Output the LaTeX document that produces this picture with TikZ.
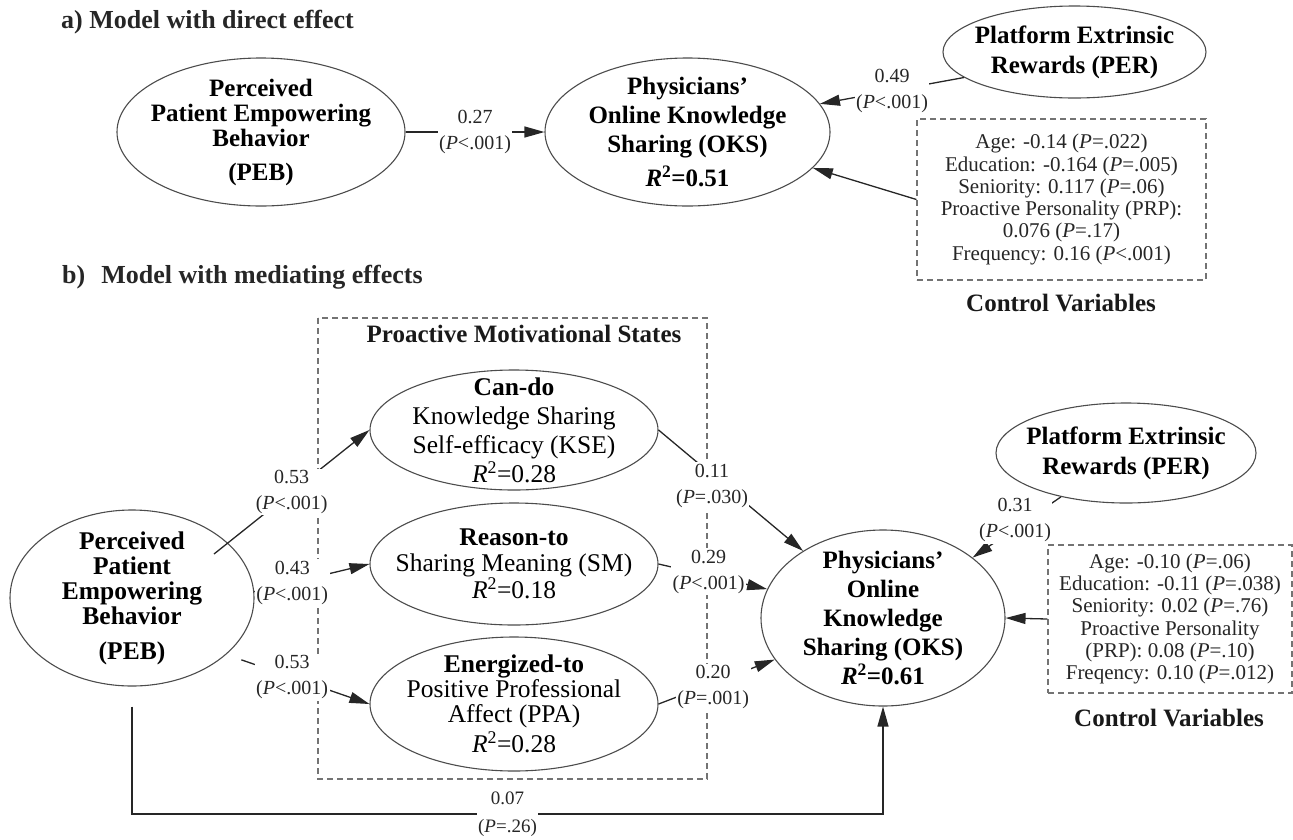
\documentclass[tikz,border=0pt]{standalone}
\usepackage{fontspec}
\setmainfont{Liberation Serif}
\usetikzlibrary{shapes.geometric,arrows.meta,calc}
\begin{document}
\begin{tikzpicture}[x=1pt,y=-1pt,
  ell/.style={ellipse, draw=black!70, line width=1.1pt, inner xsep=-40pt, inner ysep=-40pt, align=center, text=black},
  lab/.style={fill=white, inner sep=1.5pt, align=center, font={\fontsize{20}{26}\selectfont}, text=black!85},
  arr/.style={draw=black!85, line width=1.3pt, -{Triangle[length=20pt,width=11pt]}},
  dbox/.style={draw=black!55, dash pattern=on 6pt off 4pt, line width=1.1pt},
  ctrl/.style={dbox, align=center, font={\fontsize{21}{22.3}\selectfont}, inner sep=0pt, text=black!85},
  ttl/.style={font={\fontsize{26}{30}\selectfont\bfseries}, anchor=west, inner sep=0pt, text=black!85},
  cvar/.style={font={\fontsize{25}{30}\selectfont\bfseries}, inner sep=0pt, text=black!90},
]
\useasboundingbox (0,0) rectangle (1293,839);

% ---------- a) ----------
\node[ttl] (ta) at (61,22) {a) Model with direct effect};

\node[ell, minimum width=288pt, minimum height=148pt, font={\fontsize{25}{25}\selectfont\bfseries}]
  (PEBa) at (261,132) {Perceived\\Patient Empowering\\Behavior\\[9pt](PEB)};
\node[ell, minimum width=285pt, minimum height=148pt, font={\fontsize{25}{29}\selectfont\bfseries}]
  (OKSa) at (687.5,132) {Physicians’\\Online Knowledge\\Sharing (OKS)\\[5pt]\textit{R}\textsuperscript{2}=0.51};
\node[ell, minimum width=263pt, minimum height=92pt, font={\fontsize{25}{30}\selectfont\bfseries}]
  (PERa) at (1074.5,52) {Platform Extrinsic\\Rewards (PER)};
\node[ctrl, minimum width=289pt, minimum height=161pt] (CTa) at (1061.5,199.5)
  {Age: -0.14 (\textit{P}=.022)\\
   Education: -0.164 (\textit{P}=.005)\\
   Seniority: 0.117 (\textit{P}=.06)\\
   Proactive Personality (PRP):\\
   0.076 (\textit{P}=.17)\\
   Frequency: 0.16 (\textit{P}<.001)};
\node[cvar] (CVa) at (1061,303) {Control Variables};

\draw[arr] (PEBa.east) -- node[lab, midway]{0.27\\(\textit{P}<.001)} (OKSa.west);
\draw[arr] (PERa.193) -- node[lab, midway]{0.49\\(\textit{P}<.001)} (OKSa.12);
\draw[arr] (CTa.west) -- (OKSa.344);

% ---------- b) ----------
\node[ttl] (tb) at (62,277) {b)\hspace{16pt}Model with mediating effects};

\draw[dbox] (318,318) rectangle (707,779);
\node[cvar] (PMS) at (524,334) {Proactive Motivational States};

\node[ell, minimum width=288pt, minimum height=120pt, font={\fontsize{25.5}{29}\selectfont}]
  (KSE) at (514,430) {\textbf{Can-do}\\Knowledge Sharing\\Self-efficacy (KSE)\\\textit{R}\textsuperscript{2}=0.28};
\node[ell, minimum width=288pt, minimum height=122pt, font={\fontsize{25.5}{26}\selectfont}]
  (SM) at (514,564) {\textbf{Reason-to}\\Sharing Meaning (SM)\\\textit{R}\textsuperscript{2}=0.18};
\node[ell, minimum width=288pt, minimum height=134pt, font={\fontsize{25.5}{25}\selectfont}]
  (PPA) at (514,704) {\textbf{Energized-to}\\Positive Professional\\Affect (PPA)\\[3pt]\textit{R}\textsuperscript{2}=0.28};
\node[ell, minimum width=244pt, minimum height=176pt, font={\fontsize{25.5}{25}\selectfont\bfseries}]
  (PEBb) at (132,598) {Perceived\\Patient\\Empowering\\Behavior\\[10pt](PEB)};
\node[ell, minimum width=244pt, minimum height=176pt, font={\fontsize{25}{29}\selectfont\bfseries}]
  (OKSb) at (883,618) {Physicians’\\Online\\Knowledge\\Sharing (OKS)\\\textit{R}\textsuperscript{2}=0.61};
\node[ell, minimum width=260pt, minimum height=100pt, font={\fontsize{25}{30}\selectfont\bfseries}]
  (PERb) at (1126,453) {Platform Extrinsic\\Rewards (PER)};
\node[ctrl, minimum width=244pt, minimum height=148pt] (CTb) at (1170,619)
  {Age: -0.10 (\textit{P}=.06)\\
   Education: -0.11 (\textit{P}=.038)\\
   Seniority: 0.02 (\textit{P}=.76)\\
   Proactive Personality\\
   (PRP): 0.08 (\textit{P}=.10)\\
   Freqency: 0.10 (\textit{P}=.012)};
\node[cvar] (CVb) at (1169,718) {Control Variables};

\coordinate (s1) at (214,554);
\coordinate (bl) at (0,814);

\draw[arr] (s1) -- node[lab, midway]{0.53\\(\textit{P}<.001)} (KSE.west);
\draw[arr] (PEBb.3) -- node[lab, pos=0.33]{0.43\\(\textit{P}<.001)} (SM.west);
\draw[arr, shorten <=16pt] (PEBb.329) -- node[lab, pos=0.46]{0.53\\(\textit{P}<.001)} (PPA.west);

\draw[arr] (KSE.east) -- node[lab, pos=0.37, yshift=-11pt]{0.11\\(\textit{P}=.030)} (OKSb.140);
\draw[arr] (SM.east) -- node[lab, pos=0.46, yshift=4pt]{0.29\\(\textit{P}<.001)} (OKSb.166);
\draw[arr] (PPA.east) -- node[lab, pos=0.47, yshift=-4pt]{0.20\\(\textit{P}=.001)} (OKSb.201);

\draw[arr] (PERb.214) -- node[lab, pos=0.52, yshift=8pt]{0.31\\(\textit{P}<.001)} (OKSb.34);
\draw[arr] (CTb.west) -- (OKSb.east);

\draw[arr, shorten <=20pt] (PEBb.south) -- (PEBb.south |- bl)
  -- node[lab, midway, font={\fontsize{19}{22}\selectfont}]{0.07\\[6pt](\textit{P}=.26)} (OKSb.south |- bl)
  -- (OKSb.south);
\end{tikzpicture}
\end{document}
